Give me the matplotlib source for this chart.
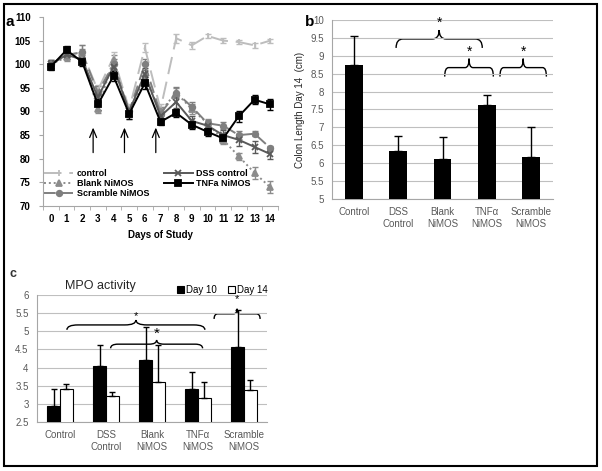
import numpy as np
import matplotlib
matplotlib.use("Agg")
import matplotlib.pyplot as plt
from matplotlib.path import Path
from matplotlib.patches import PathPatch, Rectangle

plt.rcParams['font.family'] = ['Liberation Sans', 'DejaVu Sans']

# ---- panel a: body weight (% of day 0) ----
dias = list(range(15))
controle = [100, 102, 102.5, 94.5, 101.5, 90.5, 103.5, 90.5, 105.5, 104, 106, 105, 104.7, 104, 105]
controle_err = [0.8, 0.8, 1.5, 1.2, 1.0, 1.0, 1.0, 1.0, 0.9, 0.8, 0.5, 0.5, 0.5, 0.5, 0.4]
dss = [100, 102, 101, 93, 99.5, 90, 98, 89, 92, 88, 87, 85, 84, 82.5, 81]
dss_err = [0.8, 0.8, 1.0, 1.0, 1.0, 1.0, 1.2, 1.0, 1.2, 1.0, 1.0, 1.0, 1.2, 1.2, 1.0]
blank = [100, 101.5, 102, 90.5, 101, 89.5, 97, 90, 94, 90.5, 87.5, 84, 80.5, 77, 74]
blank_err = [0.8, 0.8, 1.2, 0.8, 1.0, 1.0, 1.2, 1.0, 1.0, 1.0, 1.0, 0.8, 0.8, 1.2, 1.3]
scramble = [100, 102, 102.5, 94, 100, 90, 100, 89.5, 94, 91, 87.5, 87, 85, 85.3, 82.3]
scramble_err = [0.8, 0.8, 1.5, 1.5, 1.2, 1.0, 1.2, 1.0, 1.2, 1.0, 0.8, 0.8, 0.8, 0.5, 0.5]
tnfa = [99.5, 103, 100.5, 91.5, 97.5, 89.5, 96, 87.8, 89.7, 87.2, 85.7, 84.3, 89, 92.5, 91.5]
tnfa_err = [0.8, 0.8, 0.8, 1.2, 1.0, 1.0, 1.2, 0.6, 0.8, 0.8, 0.8, 0.8, 1.2, 1.0, 1.2]
setas_dias = [2.7, 4.7, 6.7]

# ---- panel b: colon length ----
grupos = ['Control', 'DSS\nControl', 'Blank\nNiMOS', 'TNF\u03b1\nNiMOS', 'Scramble\nNiMOS']
colon = [8.73, 6.35, 6.12, 7.63, 6.18]
colon_err = [0.82, 0.40, 0.62, 0.28, 0.82]

# ---- panel c: MPO activity ----
mpo_d10 = [2.95, 4.05, 4.22, 3.42, 4.57]
mpo_d10_err = [0.45, 0.58, 0.90, 0.47, 1.03]
mpo_d14 = [3.40, 3.23, 3.60, 3.17, 3.37]
mpo_d14_err = [0.15, 0.10, 1.02, 0.44, 0.28]

W, H = 602, 471
fig = plt.figure(figsize=(W / 100, H / 100), dpi=100)

def eixo(x0, y0, x1, y1):
    return fig.add_axes([x0 / W, 1 - y1 / H, (x1 - x0) / W, (y1 - y0) / H])

def chave(ax, x0, x1, y, h, lw=1.0):
    xm = (x0 + x1) / 2
    dx = (x1 - x0) * 0.08
    verts = [(x0, y), (x0, y + h / 2), (x0 + dx, y + h / 2), (xm - dx, y + h / 2),
             (xm, y + h / 2), (xm, y + h), (xm, y + h / 2), (xm + dx, y + h / 2),
             (x1 - dx, y + h / 2), (x1, y + h / 2), (x1, y)]
    codes = [Path.MOVETO, Path.CURVE3, Path.CURVE3, Path.LINETO, Path.CURVE3, Path.CURVE3,
             Path.CURVE3, Path.CURVE3, Path.LINETO, Path.CURVE3, Path.CURVE3]
    ax.add_patch(PathPatch(Path(verts, codes), fill=False, lw=lw, color='black'))

cinza_txt = '#595959'
cinza_eixo = '#a6a6a6'

# ================= panel a =================
ax = eixo(43, 17, 278, 206)
series = [
    ('control', controle, controle_err, '#bdbdbd', (0, (9, 4)), '|'),
    ('Blank NiMOS', blank, blank_err, '#8c8c8c', (0, (1, 1.5)), '^'),
    ('Scramble NiMOS', scramble, scramble_err, '#7f7f7f', (0, (6, 3)), 'o'),
    ('DSS control', dss, dss_err, '#595959', '-', 'x'),
    ('TNFa NiMOS', tnfa, tnfa_err, 'black', '-', 's'),
]
handles = []
for nome, y, e, cor, ls, mk in series:
    ax.errorbar(dias, y, yerr=e, fmt='none', ecolor=cor, elinewidth=1, capsize=2, zorder=2)
    h, = ax.plot(dias, y, color=cor, linestyle=ls, lw=1.4, marker=mk, markersize=4,
                 markeredgewidth=1.3, label=nome, zorder=3)
    handles.append(h)
for d in setas_dias:
    ax.annotate('', xy=(d, 86.6), xytext=(d, 81.3),
                arrowprops=dict(arrowstyle='->,head_length=0.6,head_width=0.25', lw=0.9,
                                color='black', shrinkA=0, shrinkB=0))
ax.set_xlim(-0.5, 14.5)
ax.set_ylim(70, 110)
ax.set_yticks(range(70, 111, 5))
ax.set_xticks(dias)
ax.set_xticks(np.arange(-0.5, 14.6, 1), minor=True)
ax.tick_params(axis='x', which='major', length=0, labelsize=7, colors='black', pad=6)
ax.tick_params(axis='x', which='minor', length=3, color=cinza_eixo)
ax.tick_params(axis='y', length=3, color=cinza_eixo, labelsize=7, pad=6)
for lab in ax.get_xticklabels() + ax.get_yticklabels():
    lab.set_fontweight('bold')
ax.spines['top'].set_visible(False)
ax.spines['right'].set_visible(False)
ax.spines['left'].set_color(cinza_eixo)
ax.spines['bottom'].set_color(cinza_eixo)
ax.set_xlabel('Days of Study', fontsize=7, fontweight='bold', labelpad=4)
ax.legend(handles=handles, ncol=2, loc='lower left', bbox_to_anchor=(-0.01, 0.025),
          frameon=False, prop={'size': 6.5, 'weight': 'bold'}, handlelength=3.2,
          labelspacing=0.1, columnspacing=1.6, handletextpad=0.4, borderaxespad=0)
fig.text(6 / W, 1 - 22 / H, 'a', fontsize=11, fontweight='bold', va='center')

# ================= panel b =================
bx = eixo(332, 20, 553, 199)
pos = np.arange(len(grupos))
bx.bar(pos, colon, width=0.4, color='black', zorder=3)
bx.errorbar(pos, colon, yerr=[np.zeros(len(colon)), colon_err], fmt='none', ecolor='black',
            elinewidth=1, capsize=3, zorder=4)
bx.set_xlim(-0.5, len(grupos) - 0.5)
bx.set_ylim(5, 10)
bx.set_yticks(np.arange(5, 10.01, 0.5))
bx.set_yticklabels(['5', '5.5', '6', '6.5', '7', '7.5', '8', '8.5', '9', '9.5', '10'])
bx.yaxis.grid(True, color='#bfbfbf', lw=0.8, zorder=0)
bx.set_xticks(pos)
bx.set_xticklabels(grupos)
bx.tick_params(axis='both', length=0, labelsize=7, colors=cinza_txt, pad=6)
for s in ['top', 'right']:
    bx.spines[s].set_visible(False)
bx.spines['left'].set_color(cinza_eixo)
bx.spines['bottom'].set_color(cinza_eixo)
bx.set_ylabel('Colon Length Day 14  (cm)', fontsize=7, color='#262626', labelpad=4)
chave(bx, 0.95, 2.9, 9.22, 0.5)
bx.text(1.925, 9.72, '*', ha='center', va='bottom', fontsize=10)
chave(bx, 2.05, 3.15, 8.42, 0.5)
bx.text(2.6, 8.92, '*', ha='center', va='bottom', fontsize=10)
chave(bx, 3.3, 4.35, 8.42, 0.5)
bx.text(3.825, 8.92, '*', ha='center', va='bottom', fontsize=10)
fig.text(305 / W, 1 - 22 / H, 'b', fontsize=11, fontweight='bold', va='center')

# ================= panel c =================
cx = eixo(37, 295, 267, 422)
larg = 0.28
cx.bar(pos - larg / 2, mpo_d10, width=larg, color='black', edgecolor='black', lw=0.8,
       label='Day 10', zorder=3)
cx.bar(pos + larg / 2, mpo_d14, width=larg, color='white', edgecolor='black', lw=0.8,
       label='Day 14', zorder=3)
cx.errorbar(pos - larg / 2, mpo_d10, yerr=[np.zeros(5), mpo_d10_err], fmt='none',
            ecolor='black', elinewidth=1, capsize=2.5, zorder=4)
cx.errorbar(pos + larg / 2, mpo_d14, yerr=[np.zeros(5), mpo_d14_err], fmt='none',
            ecolor='black', elinewidth=1, capsize=2.5, zorder=4)
cx.set_xlim(-0.5, 4.5)
cx.set_ylim(2.5, 6)
cx.set_yticks(np.arange(2.5, 6.01, 0.5))
cx.set_yticklabels(['2.5', '3', '3.5', '4', '4.5', '5', '5.5', '6'])
cx.yaxis.grid(True, color='#bfbfbf', lw=0.8, zorder=0)
cx.set_xticks(pos)
cx.set_xticklabels(grupos)
cx.tick_params(axis='both', length=0, labelsize=7, colors=cinza_txt, pad=6)
for s in ['top', 'right']:
    cx.spines[s].set_visible(False)
cx.spines['left'].set_color(cinza_eixo)
cx.spines['bottom'].set_color(cinza_eixo)
cx.legend(loc='lower right', bbox_to_anchor=(1.02, 0.97), ncol=2, frameon=False,
          fontsize=7, handlelength=0.7, handleheight=0.7, handletextpad=0.2,
          columnspacing=1.2, borderaxespad=0)
cx.set_title('MPO activity', fontsize=9, loc='left', x=0.12, y=1.0, pad=4, color='#262626')
chave(cx, 0.15, 3.15, 5.04, 0.27)
cx.text(1.65, 5.43, '*', ha='center', va='center', fontsize=8)
chave(cx, 1.1, 3.1, 4.53, 0.23)
cx.text(2.1, 4.92, '*', ha='center', va='center', fontsize=11)
chave(cx, 3.35, 4.35, 5.34, 0.28)
cx.text(3.85, 5.9, '*', ha='center', va='center', fontsize=8)
fig.text(10 / W, 1 - 274 / H, 'c', fontsize=9, fontweight='bold', va='center', color='#333333')

# frame around the figure
fig.patches.append(Rectangle((4 / W, 1 - 466 / H), 593 / W, 462 / H, transform=fig.transFigure,
                             fill=False, edgecolor='black', lw=1.5))

fig.savefig('out.png', dpi=100)
